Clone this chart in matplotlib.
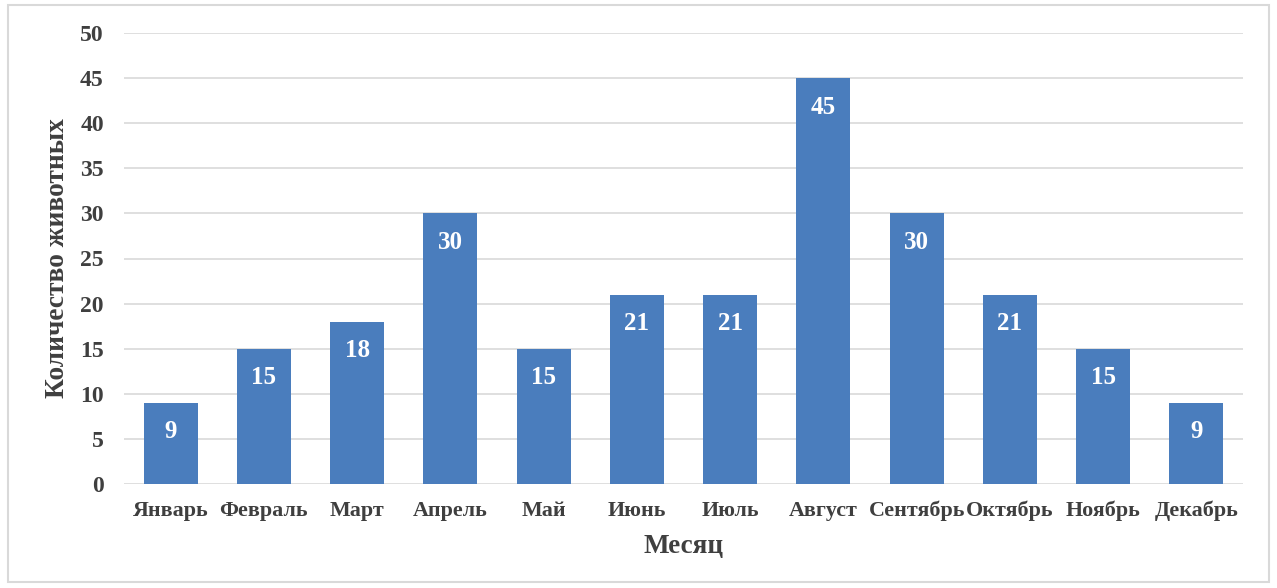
import matplotlib
matplotlib.use("Agg")
import matplotlib.pyplot as plt
from matplotlib.patches import Rectangle

months = ["Январь", "Февраль", "Март", "Апрель", "Май", "Июнь",
          "Июль", "Август", "Сентябрь", "Октябрь", "Ноябрь", "Декабрь"]
animals = [9, 15, 18, 30, 15, 21, 21, 45, 30, 21, 15, 9]
y_ticks = [0, 5, 10, 15, 20, 25, 30, 35, 40, 45, 50]

plt.rcParams["font.family"] = ["Liberation Serif", "DejaVu Serif"]
bar_color = "#4a7dbd"
text_color = "#3f3f3f"

fig = plt.figure(figsize=(12.77, 5.88), dpi=100)
fig.patches.append(Rectangle((8 / 1277, 6 / 588), 1261 / 1277, 577 / 588,
                             transform=fig.transFigure, fill=False,
                             edgecolor="#d9d9d9", linewidth=1.5))

ax = fig.add_axes([124 / 1277, 1 - 484 / 588, 1119 / 1277, 451 / 588])
x = range(len(months))
ax.bar(x, animals, width=0.58, color=bar_color, zorder=3)

for xi, v in zip(x, animals):
    ax.annotate(str(v), xy=(xi, v), xytext=(0, -21), textcoords="offset points",
                ha="center", va="center", color="white", fontsize=18,
                fontweight="bold", zorder=4)

ax.set_xlim(-0.5, len(months) - 0.5)
ax.set_ylim(0, 50)
ax.set_yticks(y_ticks)
ax.set_xticks(list(x))
ax.set_xticklabels(months)
ax.grid(axis="y", color="#d9d9d9", linewidth=1.2, zorder=0)
ax.set_axisbelow(True)
for s in ax.spines.values():
    s.set_visible(False)
ax.tick_params(axis="both", length=0, labelcolor=text_color)
ax.tick_params(axis="y", pad=14.5, labelsize=17)
ax.tick_params(axis="x", pad=12, labelsize=15.8)
for lbl in ax.get_xticklabels() + ax.get_yticklabels():
    lbl.set_fontweight("bold")

fig.text(58 / 1277, 1 - 258 / 588, "Количество животных", rotation=90,
         ha="center", va="center", fontsize=19.7, fontweight="bold",
         color=text_color)
fig.text(683 / 1277, 1 - 546 / 588, "Месяц", ha="center", va="center",
         fontsize=19.5, fontweight="bold", color=text_color)

fig.savefig("out.png", dpi=100)
